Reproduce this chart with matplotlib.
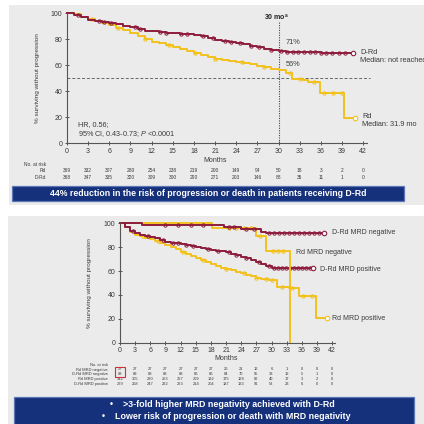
import matplotlib.pyplot as plt
import numpy as np
from matplotlib.patches import Rectangle
from matplotlib.transforms import blended_transform_factory

plt.rcParams['font.family'] = ['Liberation Sans', 'DejaVu Sans']
plt.rcParams['mathtext.fontset'] = 'custom'
plt.rcParams['mathtext.it'] = 'Liberation Sans:italic'
plt.rcParams['mathtext.rm'] = 'Liberation Sans'
plt.rcParams['mathtext.bf'] = 'Liberation Sans:bold'

W = H = 424
RED = '#8d1c3d'
GOLD = '#f2c11c'
BG = '#ebebeb'
NAVY = '#15317c'
INK = '#3a3a3a'

months = np.arange(0, 43, 3)

# --- upper panel: PFS, D-Rd vs Rd ---
drd_t = [0, 1, 2, 3, 4, 5, 6, 7, 8, 9, 10, 11, 12, 13, 14, 15, 16, 17, 18, 19,
         20, 21, 22, 23, 24, 25, 26, 27, 28, 29, 30, 31, 33, 36, 40.6]
drd_v = [100, 98.6, 96.8, 95.0, 94.0, 93.2, 92.5, 91.4, 90.1, 89.0, 87.5, 86.4,
         86.0, 85.4, 84.9, 84.4, 84.0, 83.5, 83.0, 82.0, 80.6, 79.5, 78.3, 77.5,
         76.7, 75.9, 75.0, 74.0, 72.6, 71.4, 71.0, 70.2, 70.0, 69.6, 69.6]
drd_cens = [1.5, 4.5, 5.2, 6.3, 9.6, 10.4, 13.2, 14.1, 16.2, 17.0, 19.3, 20.7,
            22.4, 23.2, 24.6, 26.1, 27.3, 29.0, 30.4, 31.2, 32.0, 32.8, 33.6,
            34.4, 35.2, 36.0, 36.8, 37.6, 38.6, 39.5]

rd_t = [0, 1, 2, 3, 4, 5, 6, 7, 8, 9, 10, 11, 12, 13, 14, 15, 16, 17, 18, 19,
        20, 21, 22, 23, 24, 25, 26, 27, 28, 29, 30, 31, 31.9, 33.5, 34.2, 35.9,
        39.3, 40.9]
rd_v = [100, 98.9, 97.3, 95.4, 93.9, 92.4, 90.8, 88.8, 86.7, 84.6, 82.3, 80.1,
        78.0, 76.7, 75.3, 74.0, 72.3, 70.6, 69.0, 67.6, 66.1, 64.6, 63.7, 63.1,
        62.5, 61.4, 60.5, 59.5, 58.3, 57.0, 56.0, 53.5, 49.6, 48.3, 46.7, 38.7,
        19.5, 19.5]
rd_cens = [3.5, 7.2, 11.0, 14.5, 18.2, 21.0, 24.8, 28.0, 31.6, 33.0, 35.0,
           36.5, 37.8, 39.0]

risk_top_rows = ['Rd', 'D-Rd']
risk_rd = [369, 332, 307, 280, 254, 238, 219, 200, 149, 94, 50, 18, 3, 2, 0]
risk_drd = [368, 347, 335, 320, 309, 300, 290, 271, 203, 146, 88, 35, 11, 1, 0]

# --- lower panel: PFS by MRD status ---
drd_neg_t = [0, 4.3, 20.5, 24, 28, 29, 40.4]
drd_neg_v = [100, 98.9, 96.6, 95.4, 93.1, 92.0, 92.0]
drd_neg_cens = [9, 11.5, 14, 16.5, 21.5, 22.5, 25, 26.5, 29.5, 30.5, 31.5,
                32.5, 33.5, 34.5, 35.5, 36.5, 37.5, 38.5, 39.5]

rd_neg_t = [0, 18.2, 27, 29, 33.7]
rd_neg_v = [100, 96.3, 89.6, 77.0, 0]
rd_neg_cens = [21.5, 23, 24.5, 26, 27.8, 30.2, 31.2, 32.2]

drd_pos_t = [0, 1, 2, 3, 4, 5, 6, 7, 8, 9, 10, 11, 12, 13, 14, 15, 16, 17, 18,
             19, 20, 21, 22, 23, 24, 25, 26, 27, 28, 29, 30, 38.3]
drd_pos_v = [100, 96.5, 93.5, 91.6, 90.5, 89.6, 88.8, 87.4, 86.0, 84.6, 83.8,
             83.1, 82.4, 81.7, 81.0, 80.4, 79.6, 78.8, 78.0, 77.2, 76.5, 75.7,
             74.5, 73.2, 72.0, 70.6, 69.3, 67.9, 66.0, 64.0, 62.5, 62.5]
drd_pos_cens = [2.5, 5.5, 8.5, 10.5, 11.5, 13, 14.5, 17.5, 19.5, 21.5, 23, 25,
                27.5, 29.5, 30.5, 31.3, 32.1, 32.9, 33.7, 34.5, 35.3, 36.1,
                36.9, 37.7]

rd_pos_t = [0, 1, 2, 3, 4, 5, 6, 7, 8, 9, 10, 11, 12, 13, 14, 15, 16, 17, 18,
            19, 20, 21, 22, 23, 24, 25, 26, 27, 28, 29.5, 31, 33.5, 35.5, 38.8,
            41]
rd_pos_v = [100, 96.5, 93.0, 90.2, 89.0, 87.8, 86.6, 85.0, 83.4, 81.8, 79.9,
            78.1, 76.2, 74.4, 72.5, 70.7, 69.0, 67.3, 65.6, 64.2, 62.8, 61.5,
            60.5, 59.6, 58.6, 57.1, 55.5, 54.0, 53.2, 52.4, 47.0, 45.5, 39.0,
            20.4, 20.4]
rd_pos_cens = [4.5, 7.5, 12.5, 16.5, 21, 24.5, 27, 29, 30, 32, 34, 36.2, 38.0]

risk_bot_rows = ['Rd MRD negative', 'D-Rd MRD negative', 'Rd MRD positive',
                 'D-Rd MRD positive']
risk_bot = [
    [27, 27, 27, 27, 27, 27, 27, 26, 21, 12, 6, 1, 0, 0, 0],
    [89, 89, 88, 88, 88, 86, 86, 84, 70, 55, 33, 12, 5, 1, 0],
    [342, 305, 280, 253, 227, 209, 192, 175, 128, 82, 40, 17, 3, 2, 0],
    [279, 258, 247, 232, 223, 214, 204, 187, 133, 91, 53, 23, 6, 0, 0],
]


def step_at(t, v, c):
    idx = np.searchsorted(t, c, side='right') - 1
    return np.asarray(v)[idx]


def km(ax, t, v, cens, color, end=True):
    ax.plot(t, v, drawstyle='steps-post', color=color, lw=1.4, clip_on=False)
    ax.plot(cens, step_at(t, v, cens), 'o', ms=2.4, mfc='none', mec=color,
            mew=0.7, ls='none', clip_on=False)
    if end:
        ax.plot(t[-1], v[-1], 'o', ms=3.2, mfc='white', mec=color, mew=0.8,
                clip_on=False, zorder=4)


def px_axes(fig, x0, y_top, x1, y_bot):
    return fig.add_axes([x0 / W, 1 - y_bot / H, (x1 - x0) / W, (y_bot - y_top) / H])


def box(fig, x0, y0, x1, y1, **kw):
    fig.add_artist(Rectangle((x0 / W, 1 - y1 / H), (x1 - x0) / W, (y1 - y0) / H,
                             transform=fig.transFigure, **kw))


def ftext(fig, x, y, s, **kw):
    kw.setdefault('color', INK)
    fig.text(x / W, 1 - y / H, s, **kw)


def style_axes(ax):
    ax.set_facecolor('none')
    ax.set_xlim(0, 42.6)
    ax.set_ylim(0, 100)
    ax.set_xticks(months)
    ax.set_yticks([0, 20, 40, 60, 80, 100])
    for s in ['top', 'right']:
        ax.spines[s].set_visible(False)
    for s in ['left', 'bottom']:
        ax.spines[s].set_color('#555555')
        ax.spines[s].set_linewidth(0.8)
    ax.tick_params(direction='inout', length=3.5, width=0.7, colors='#555555',
                   labelsize=5, labelcolor=INK, pad=1.5)


def risk_table(fig, ax, rows, values, ys, label_x, header_y, size):
    tr = blended_transform_factory(ax.transData, fig.transFigure)
    ftext(fig, label_x, header_y, 'No. at risk', ha='right', va='center',
          fontsize=size)
    for name, vals, y in zip(rows, values, ys):
        ftext(fig, label_x, y, name, ha='right', va='center', fontsize=size)
        for m, n in zip(months, vals):
            ax.text(m, 1 - y / H, str(n), transform=tr, ha='center',
                    va='center', fontsize=size, color=INK, clip_on=False)


def main():
    fig = plt.figure(figsize=(W / 100, H / 100), dpi=100)
    fig.patch.set_facecolor('white')

    # panel backgrounds
    box(fig, 9, 5, W, 205, facecolor=BG, edgecolor='none', zorder=-2)
    box(fig, 8, 216, W, H, facecolor=BG, edgecolor='none', zorder=-2)

    # ---------------- upper panel ----------------
    ax = px_axes(fig, 67, 13, 67 + 7.05 * 42.6, 143)
    style_axes(ax)
    ax.plot([0, 43], [50, 50], ls=(0, (3, 2)), color='#666666', lw=0.7,
            clip_on=False)
    ax.plot([30, 30], [0, 93], ls=(0, (1, 1.2)), color='#444444', lw=0.8)
    km(ax, rd_t, rd_v, rd_cens, GOLD)
    km(ax, drd_t, drd_v, drd_cens, RED)

    ftext(fig, 277, 17, r'30 mo$^{\mathbf{a}}$', ha='center', va='center',
          fontsize=5, fontweight='bold', color='#222222')
    ftext(fig, 286, 43, '71%', ha='left', va='center', fontsize=5.3)
    ftext(fig, 286, 65, '56%', ha='left', va='center', fontsize=5.3)
    ftext(fig, 360, 52, 'D-Rd', ha='left', va='center', fontsize=5.3)
    ftext(fig, 360, 60, 'Median: not reached', ha='left', va='center',
          fontsize=5.3)
    ftext(fig, 362, 116, 'Rd', ha='left', va='center', fontsize=5.3)
    ftext(fig, 362, 125, 'Median: 31.9 mo', ha='left', va='center',
          fontsize=5.3)
    ftext(fig, 78, 125, 'HR, 0.56;', ha='left', va='center', fontsize=5.2)
    ftext(fig, 78, 134, r'95% CI, 0.43-0.73; $\it{P}$ <0.0001', ha='left',
          va='center', fontsize=5.2)
    ftext(fig, 38, 78, '% surviving without progression', rotation=90,
          ha='center', va='center', fontsize=4.6)
    ftext(fig, 215, 160.5, 'Months', ha='center', va='center', fontsize=5)

    risk_table(fig, ax, risk_top_rows, [risk_rd, risk_drd], [170.5, 177],
               46, 164.5, 3.5)

    box(fig, 12, 186, 404, 201, facecolor=NAVY, edgecolor='#5b77b5', lw=0.9)
    ftext(fig, 208, 193.5,
          '44% reduction in the risk of progression or death in patients receiving D-Rd',
          ha='center', va='center', fontsize=6.3, fontweight='bold',
          color='white')

    # ---------------- lower panel ----------------
    ax2 = px_axes(fig, 120, 223.3, 120 + 5.05 * 42.6, 342.7)
    style_axes(ax2)
    km(ax2, rd_pos_t, rd_pos_v, rd_pos_cens, GOLD)
    km(ax2, drd_pos_t, drd_pos_v, drd_pos_cens, RED)
    km(ax2, rd_neg_t, rd_neg_v, rd_neg_cens, GOLD, end=False)
    km(ax2, drd_neg_t, drd_neg_v, drd_neg_cens, RED)

    ftext(fig, 332, 232.7, 'D-Rd MRD negative', ha='left', va='center',
          fontsize=5)
    ftext(fig, 296, 252.3, 'Rd MRD negative', ha='left', va='center',
          fontsize=5)
    ftext(fig, 320, 269.3, 'D-Rd MRD positive', ha='left', va='center',
          fontsize=5)
    ftext(fig, 332, 318.3, 'Rd MRD positive', ha='left', va='center',
          fontsize=5)
    ftext(fig, 90, 283, '% surviving without progression', rotation=90,
          ha='center', va='center', fontsize=4.6)
    ftext(fig, 226, 358, 'Months', ha='center', va='center', fontsize=5)

    risk_table(fig, ax2, risk_bot_rows, risk_bot, [369.5, 374.3, 379, 383.7],
               108, 365, 2.9)
    box(fig, 115.5, 366.5, 124.5, 377, facecolor='none', edgecolor='#d0303a',
        lw=0.8)

    box(fig, 14, 397, 414, H + 2, facecolor=NAVY, edgecolor='#5b77b5', lw=0.9)
    ftext(fig, 222, 404.5,
          '\u2022    >3-fold higher MRD negativity achieved with D-Rd',
          ha='center', va='center', fontsize=6.4, fontweight='bold',
          color='white')
    ftext(fig, 226, 416.5,
          '\u2022    Lower risk of progression or death with MRD negativity',
          ha='center', va='center', fontsize=6.4, fontweight='bold',
          color='white')

    fig.savefig('out.png', dpi=100)


if __name__ == '__main__':
    main()
